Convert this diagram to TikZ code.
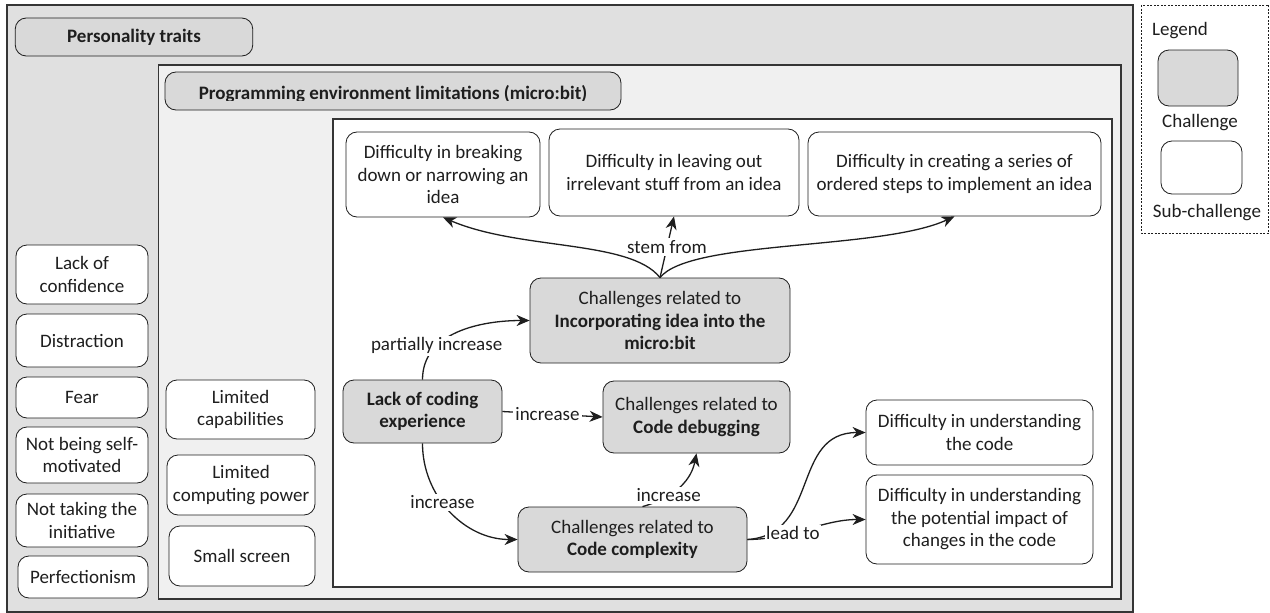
\documentclass[tikz,border=0pt]{standalone}
\usepackage{fontspec}
\setmainfont{Carlito}
\usetikzlibrary{arrows.meta}
\definecolor{outergray}{HTML}{E0E0E0}
\definecolor{midgray}{HTML}{F0F0F0}
\definecolor{chalgray}{HTML}{D9D9D9}
\definecolor{ink}{HTML}{1E1E1E}
\newcommand{\myfs}{\fontsize{19}{22.5}\selectfont}
\begin{document}
\begin{tikzpicture}[x=1pt,y=-1pt,
  box/.style={draw=ink, line width=0.8pt, rounded corners=11pt, align=center, inner sep=2pt, font=\myfs, text=ink},
  chal/.style={box, fill=chalgray},
  subc/.style={box, fill=white},
  lbl/.style={fill=white, inner sep=2pt, font=\myfs, text=ink},
  conn/.style={line width=1.3pt, draw=ink, -{Stealth[length=13pt,width=11pt,inset=4pt]}},
  region/.style={draw=ink!90, line width=1.1pt}]
\useasboundingbox (0,0) rectangle (1270,613);
% regions
\filldraw[region, fill=outergray] (7,5) rectangle (1133,612);
\filldraw[region, fill=midgray] (158.5,65) rectangle (1121,599);
\filldraw[region, fill=white] (333,119) rectangle (1112,587);
% legend
\draw[ink, line width=0.6pt, dashed, dash pattern=on 2pt off 1.5pt] (1141,5) rectangle (1268.5,233);
\node[font=\myfs, text=ink, anchor=west, inner sep=0pt] (legtitle) at (1152,31) {Legend};
\node[chal, minimum width=80, minimum height=56] (legchal) at (1198,78) {};
\node[font=\myfs, text=ink] (legchaltext) at (1200,123) {Challenge};
\node[subc, minimum width=81, minimum height=53] (legsub) at (1201.5,167.5) {};
\node[font=\myfs, text=ink] (legsubtext) at (1207,213) {Sub-challenge};
% headers
\node[chal, minimum width=237.5, minimum height=38, font=\myfs\bfseries] (pers) at (134,37) {Personality traits};
\node[chal, minimum width=456, minimum height=38] (penv) at (393,91) {};
\begin{scope}
\clip (165,72) rectangle (621,100.5);
\node[font=\myfs\bfseries, text=ink, anchor=base] (penvtext) at (393,99) {Programming environment limitations (micro:bit)};
\end{scope}
% personality column
\node[subc, minimum width=132, minimum height=59] (conf) at (82,274.5) {Lack of\\confidence};
\node[subc, minimum width=132, minimum height=53] (distr) at (82,340.5) {Distraction};
\node[subc, minimum width=132, minimum height=41] (fear) at (82,397.5) {Fear};
\node[subc, minimum width=132, minimum height=56] (selfm) at (82,455) {Not being self-\\motivated};
\node[subc, minimum width=132, minimum height=53] (init) at (82,520.5) {Not taking the\\initiative};
\node[subc, minimum width=130, minimum height=42] (perf) at (83,577) {Perfectionism};
% environment column
\node[subc, minimum width=149, minimum height=59] (capab) at (240.5,409.5) {Limited\\capabilities};
\node[subc, minimum width=148, minimum height=60] (power) at (241,485) {Limited\\computing power};
\node[subc, minimum width=146, minimum height=60] (screen) at (242,556) {Small screen};
% inner diagram
\node[subc, minimum width=194, minimum height=85] (breaking) at (443,174.5) {Difficulty in breaking\\down or narrowing an\\idea};
\node[subc, minimum width=250, minimum height=87] (leaving) at (674,172.5) {Difficulty in leaving out\\irrelevant stuff from an idea};
\node[subc, minimum width=293, minimum height=84] (steps) at (954.5,174) {Difficulty in creating a series of\\ordered steps to implement an idea};
\node[chal, minimum width=260, minimum height=85] (inc) at (660,320.5) {Challenges related to\\\textbf{Incorporating idea into the}\\\textbf{micro:bit}};
\node[chal, minimum width=159, minimum height=63] (lack) at (422.5,411.5) {\textbf{Lack of coding}\\\textbf{experience}};
\node[chal, minimum width=187, minimum height=72] (debug) at (696.5,417) {Challenges related to\\\textbf{Code debugging}};
\node[chal, minimum width=229, minimum height=65] (complex) at (632.5,539.5) {Challenges related to\\\textbf{Code complexity}};
\node[subc, minimum width=227, minimum height=65] (code) at (979.5,432.5) {Difficulty in understanding\\the code};
\node[subc, minimum width=227, minimum height=89] (impact) at (979.5,519.5) {Difficulty in understanding\\the potential impact of\\changes in the code};
% connectors
\draw[conn] (inc.north) .. controls +(-30,-38) and +(77,33) .. (breaking.south);
\draw[conn] (inc.north) .. controls +(30,-38) and +(-74,34) .. (steps.south);
\draw[conn] (inc.north) -- node[lbl, pos=0.5] (stemlbl) {stem from} (leaving.south);
\draw[conn] (lack.north) to[out=90,in=180] node[lbl, pos=0.3] (pilbl) {partially increase} (inc.west);
\draw[conn] (lack.east) -- node[lbl, pos=0.45] (inclbl1) {increase} (debug.west);
\draw[conn] (lack.south) to[out=-90,in=180] node[lbl, pos=0.42] (inclbl2) {increase} (complex.west);
\draw[conn] ([xshift=10pt]complex.north) .. controls +(35,-10) and +(-5,25) .. node[lbl, pos=0.3] (inclbl3) {increase} (debug.south);
\draw[conn] (complex.east) .. controls +(73,-5) and +(-75,0) .. (code.west);
\draw[conn] (complex.east) .. controls +(43,0) and +(-43,0) .. node[lbl, pos=0.38, inner sep=1pt] (leadlbl) {lead to} (impact.west);
\end{tikzpicture}
\end{document}
